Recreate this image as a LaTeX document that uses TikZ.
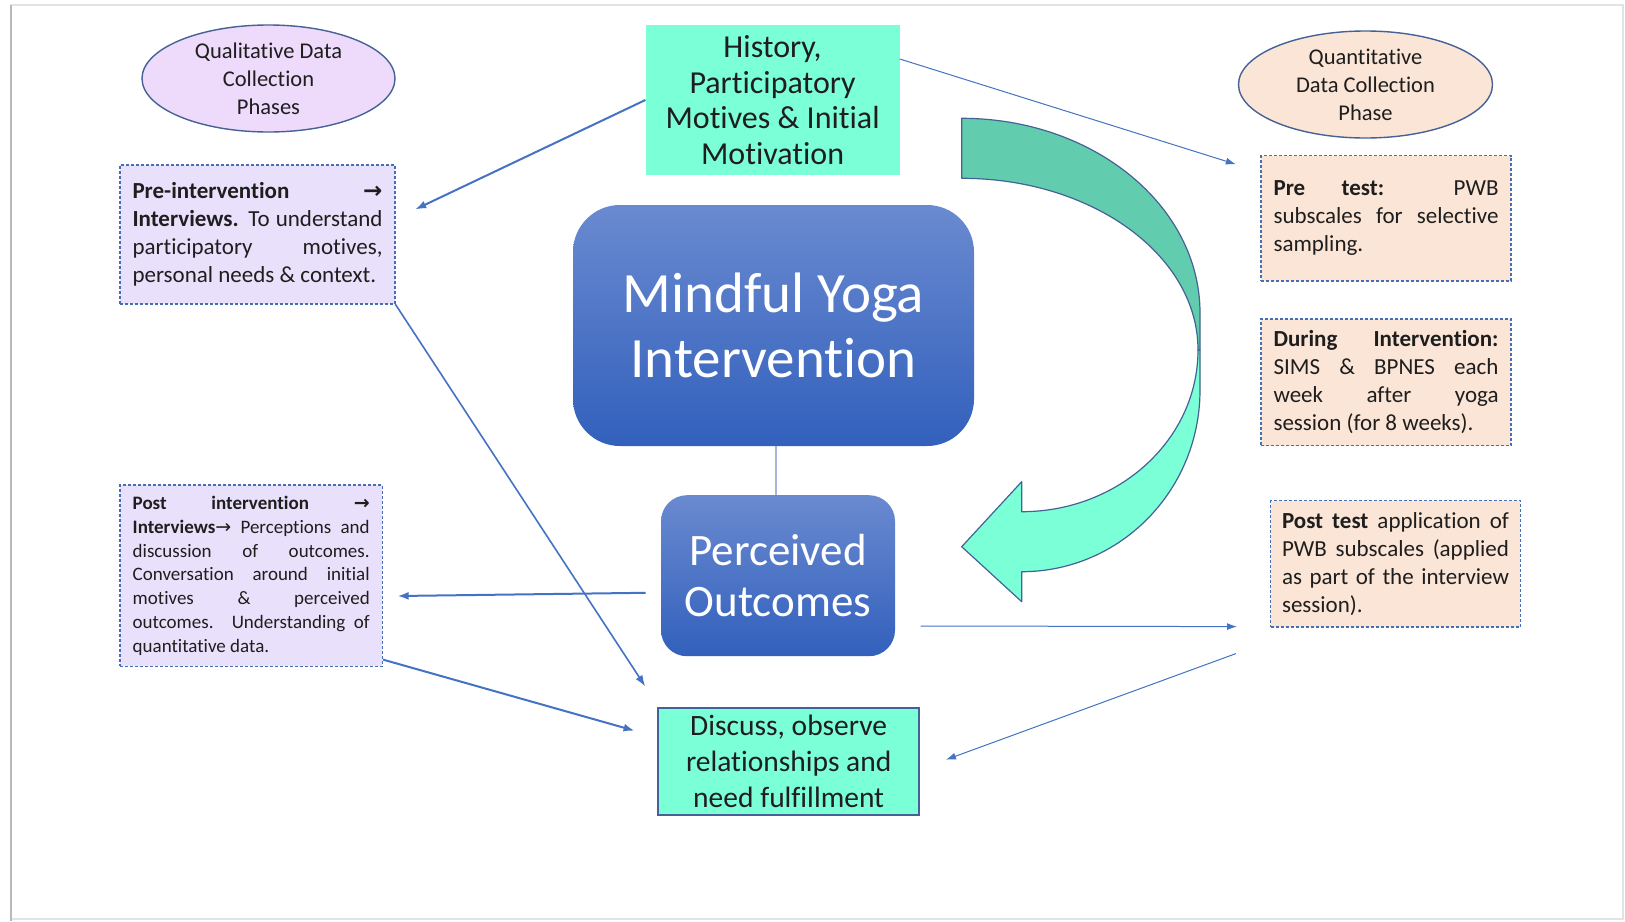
\documentclass[tikz,border=0pt]{standalone}
\usepackage{fontspec}
\setmainfont{Carlito}[RawFeature={-liga;-clig;-calt;-dlig}]
\newfontfamily\arrfont{DejaVu Sans}
\usetikzlibrary{shapes.geometric,arrows.meta}
\definecolor{aqua}{RGB}{122,255,214}
\definecolor{aquadark}{RGB}{98,205,174}
\definecolor{lav}{RGB}{233,225,251}
\definecolor{ellpurple}{RGB}{238,218,250}
\definecolor{peach}{RGB}{251,229,214}
\definecolor{linkblue}{RGB}{68,114,196}
\definecolor{edgeblue}{RGB}{68,98,150}
\definecolor{dashblue}{RGB}{70,110,180}
\definecolor{gradtop}{RGB}{106,138,208}
\definecolor{gradbot}{RGB}{50,96,188}
\definecolor{txt}{RGB}{30,30,30}
\definecolor{stemgray}{RGB}{165,182,216}
\newcommand\jl[2]{\makebox[#1][s]{#2}}
\begin{document}
\begin{tikzpicture}[x=1pt,y=-1pt,
  ell/.style={ellipse, draw=edgeblue, line width=1.4pt, text=txt, align=center,
    font=\fontsize{22.5}{28}\selectfont, inner sep=0pt},
  dbox/.style={rectangle, draw=dashblue, line width=1.2pt, dash pattern=on 3pt off 2pt,
    text=txt, align=left, inner sep=0pt},
  bluebox/.style={rectangle, rounded corners=#1, top color=gradtop, bottom color=gradbot,
    draw=none, text=white, align=center, inner sep=0pt},
  lnk/.style={draw=linkblue, line width=2pt, -{Latex[length=11pt,width=8pt]}},
  lnkmid/.style={draw=linkblue, line width=1.6pt, -{Latex[length=11pt,width=8pt]}},
  lnkthin/.style={draw=linkblue, line width=1pt, -{Latex[length=10pt,width=7pt]}},
  curvedge/.style={draw=edgeblue, line width=1.2pt, line join=round}
]
\useasboundingbox (0,0) rectangle (1625,921);
\fill[white] (0,0) rectangle (1625,921);
% frame
\draw[gray!22, line width=1.5pt] (11,5) -- (1623,5) -- (1623,919) -- (11,919) -- cycle;
\draw[gray!55, line width=2.2pt] (11,5) -- (11,921);

% ellipses
\node[ell, fill=ellpurple, minimum width=253pt, minimum height=107pt] (qual) at (268.5,78.5)
  {Qualitative Data\\Collection\\Phases};
\node[ell, fill=peach, minimum width=254pt, minimum height=107pt] (quant) at (1365.5,84.5)
  {Quantitative\\Data Collection\\Phase};

% top box
\node[rectangle, fill=aqua, minimum width=254pt, minimum height=150pt, inner sep=0pt,
  align=center, text=txt, font=\fontsize{32}{35.5}\selectfont] (hist) at (772.6,100)
  {History,\\Participatory\\Motives \& Initial\\Motivation};

% central boxes
\node[bluebox=47pt, minimum width=401pt, minimum height=241pt,
  font=\fontsize{57}{65}\selectfont] (yoga) at (773.5,325.5)
  {Mindful Yoga\\Intervention};
\node[bluebox=26pt, minimum width=234pt, minimum height=161pt,
  font=\fontsize{45}{51}\selectfont] (perc) at (778,575.7)
  {Perceived\\Outcomes};
\node[rectangle, fill=aqua, draw=edgeblue, line width=1.5pt, minimum width=261pt,
  minimum height=107pt, inner sep=0pt, align=center, text=txt,
  font=\fontsize{29.5}{36}\selectfont] (disc) at (788.7,761.3)
  {Discuss, observe\\relationships and\\need fulfillment};

% left dashed boxes
\node[dbox, fill=lav, minimum width=275pt, minimum height=139pt,
  font=\fontsize{23}{28}\selectfont] (pre) at (257.5,234.5)
  {\jl{250pt}{\textbf{Pre-intervention}\hfill\textbf{\arrfont →}}\\
   \jl{250pt}{\textbf{Interviews.} To understand}\\
   \jl{250pt}{participatory motives,}\\
   personal needs \& context.};
\node[dbox, fill=lav, minimum width=262.4pt, minimum height=181.4pt,
  font=\fontsize{19}{23.8}\selectfont] (post) at (251.2,575.7)
  {\jl{237pt}{\textbf{Post} \textbf{intervention} \textbf{\arrfont →}}\\
   \jl{237pt}{\textbf{Interviews}{\arrfont →} Perceptions and}\\
   \jl{237pt}{discussion of outcomes.}\\
   \jl{237pt}{Conversation around initial}\\
   \jl{237pt}{motives \& perceived}\\
   \jl{237pt}{outcomes. Understanding of}\\
   quantitative data.};

% right dashed boxes
\node[dbox, fill=peach, minimum width=250pt, minimum height=125.5pt,
  font=\fontsize{23}{28}\selectfont] (pt) at (1386,218.3)
  {\jl{225pt}{\textbf{Pre} \textbf{test:} PWB}\\
   \jl{225pt}{subscales for selective}\\
   sampling.};
\node[dbox, fill=peach, minimum width=250pt, minimum height=126.7pt,
  font=\fontsize{23}{28}\selectfont] (dur) at (1386,382.4)
  {\jl{225pt}{\textbf{During} \textbf{Intervention:}}\\
   \jl{225pt}{SIMS \& BPNES each}\\
   \jl{225pt}{week after yoga}\\
   session (for 8 weeks).};
\node[dbox, fill=peach, minimum width=249.8pt, minimum height=126.4pt,
  font=\fontsize{23}{28}\selectfont] (pst) at (1395.5,563.8)
  {\jl{227pt}{\textbf{Post test} application of}\\
   \jl{227pt}{PWB subscales (applied}\\
   \jl{227pt}{as part of the interview}\\
   session).};

% stem between central boxes
\draw[stemgray, line width=1.3pt] ([xshift=2.5pt]yoga.south) -- ([xshift=-2pt]perc.north);

% curved block arrow
\filldraw[fill=aquadark, curvedge]
  (961.7,118.3) .. controls (1093.3,118.3) and (1200,205.5) .. (1200,313)
  -- (1200,350) -- (1198,350)
  .. controls (1198,255.2) and (1092.2,178.3) .. (961.7,178.3) -- cycle;
\filldraw[fill=aqua, curvedge]
  (1198,350) -- (1200,350) -- (1200,390)
  .. controls (1200,490.4) and (1120.2,571.7) .. (1021.7,571.7)
  -- (1021.7,601.7) -- (961.7,546.7) -- (1021.7,481.7) -- (1021.7,511.7)
  .. controls (1119.1,511.7) and (1198,439.3) .. (1198,350) -- cycle;

% connectors
\draw[lnk] (hist.west) -- ([xshift=19.6pt,yshift=25.1pt]pre.east);
\draw[lnkthin] ([yshift=41pt]hist.east) -- ([xshift=-24.6pt,yshift=-9.3pt]pt.north west);
\draw[lnkmid] (pre.south east) -- ([xshift=-12.3pt,yshift=20.8pt]disc.north west);
\draw[lnk] ([xshift=-15.3pt,yshift=-17.1pt]perc.west) -- ([xshift=14.6pt,yshift=-20.3pt]post.east);
\draw[lnk] ([yshift=7.4pt]post.south east) -- ([xshift=-22.9pt,yshift=30.6pt]disc.west);
\draw[lnkthin] ([xshift=25.3pt,yshift=30.4pt]perc.south east) -- ([xshift=-33pt,yshift=1pt]pst.south west);
\draw[lnkthin] ([xshift=-34.1pt,yshift=-26pt]pst.south west) -- ([xshift=26pt,yshift=1.6pt]disc.east);
\end{tikzpicture}
\end{document}
